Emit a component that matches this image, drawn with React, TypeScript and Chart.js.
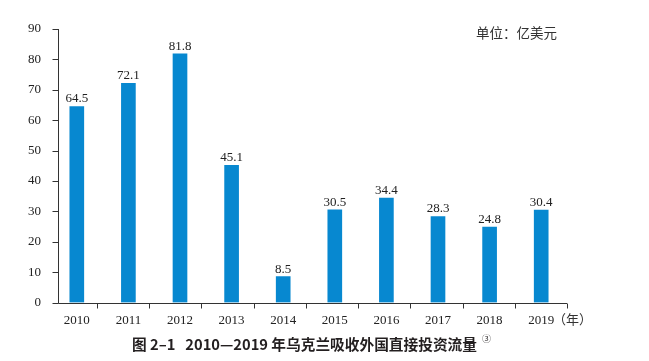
import React, { useEffect, useRef } from 'react';
import { Chart, registerables } from 'chart.js';

Chart.register(...registerables);

const years = ['2010', '2011', '2012', '2013', '2014', '2015', '2016', '2017', '2018', '2019'];
const fdiInflow = [64.5, 72.1, 81.8, 45.1, 8.5, 30.5, 34.4, 28.3, 24.8, 30.4];
const yTicks = [0, 10, 20, 30, 40, 50, 60, 70, 80, 90];
const unitLabel = '单位：亿美元';
const yearUnit = '（年）';
const titleText = '图 2–1   2010—2019 年乌克兰吸收外国直接投资流量';
const noteMark = '③';

const SERIF = '"Liberation Serif", "Times New Roman", serif';
const CJK = '"Noto Sans CJK SC", "Noto Sans", sans-serif';

const decorPlugin = {
  id: 'decor',
  afterDraw(chart: any) {
    const { ctx, chartArea, scales } = chart;
    const x = scales.x;
    const y = scales.y;
    const axisX = Math.round(chartArea.left + 7) + 0.5;
    const y0 = Math.round(y.getPixelForValue(0)) + 0.5;
    const yTop = y.getPixelForValue(yTicks[yTicks.length - 1]);
    ctx.save();
    ctx.strokeStyle = '#333';
    ctx.lineWidth = 1;
    ctx.beginPath();
    ctx.moveTo(axisX, yTop);
    ctx.lineTo(axisX, y0);
    yTicks.forEach((v) => {
      const py = Math.round(y.getPixelForValue(v)) + 0.5;
      ctx.moveTo(axisX - 6, py);
      ctx.lineTo(axisX, py);
    });
    ctx.moveTo(axisX, y0);
    ctx.lineTo(chartArea.right, y0);
    const first = x.getPixelForValue(0) + 20;
    const step = (chartArea.right - first) / (years.length - 1);
    for (let i = 0; i < years.length; i++) {
      const px = Math.round(first + i * step) + 0.5;
      ctx.moveTo(px, y0);
      ctx.lineTo(px, y0 + 5);
    }
    ctx.stroke();

    // value labels
    ctx.fillStyle = '#222';
    ctx.font = `13px ${SERIF}`;
    ctx.textAlign = 'center';
    ctx.textBaseline = 'alphabetic';
    const meta = chart.getDatasetMeta(0);
    meta.data.forEach((el: any, i: number) => {
      ctx.fillText(fdiInflow[i].toFixed(1), el.x, el.y - 4);
    });

    // unit label
    ctx.fillStyle = '#333';
    ctx.font = `13.5px ${CJK}`;
    ctx.textAlign = 'left';
    ctx.textBaseline = 'middle';
    ctx.fillText(unitLabel, chartArea.right - 91, 24.5);

    // year unit
    ctx.font = `13px ${CJK}`;
    ctx.fillText(yearUnit, chartArea.right - 14, 311);

    // title
    ctx.fillStyle = '#231f20';
    ctx.font = `bold 14.7px ${CJK}`;
    const tw = ctx.measureText(titleText).width;
    const tx = 124;
    ctx.fillText(titleText, tx, 336);
    ctx.font = `9px ${CJK}`;
    ctx.fillText(noteMark, tx + tw + 5, 331);
    ctx.restore();
  },
};

export default function App() {
  const ref = useRef<HTMLCanvasElement>(null);
  useEffect(() => {
    if (!ref.current) return;
    const chart = new Chart(ref.current, {
      type: 'bar',
      data: {
        labels: years,
        datasets: [
          {
            data: fdiInflow,
            backgroundColor: '#0788d0',
            barThickness: 14,
          },
        ],
      },
      options: {
        responsive: false,
        animation: false,
        layout: { padding: { top: 21, right: 74, left: 0, bottom: 0 } },
        plugins: { legend: { display: false }, tooltip: { enabled: false } },
        scales: {
          x: {
            type: 'category',
            offset: true,
            grid: { display: false },
            border: { display: false },
            ticks: { color: '#222', font: { family: SERIF, size: 13 }, padding: 2, maxRotation: 0 },
            afterFit: (s: any) => {
              s.height = 50.5;
            },
          },
          y: {
            min: 0,
            max: 90,
            grid: { display: false },
            border: { display: false },
            ticks: { stepSize: 10, color: '#222', font: { family: SERIF, size: 13 }, padding: 2 },
            afterFit: (s: any) => {
              s.width = 43;
            },
          },
        },
      },
      plugins: [decorPlugin],
    });
    return () => chart.destroy();
  }, []);
  return <canvas ref={ref} width={633} height={345} style={{ display: 'block' }} />;
}
